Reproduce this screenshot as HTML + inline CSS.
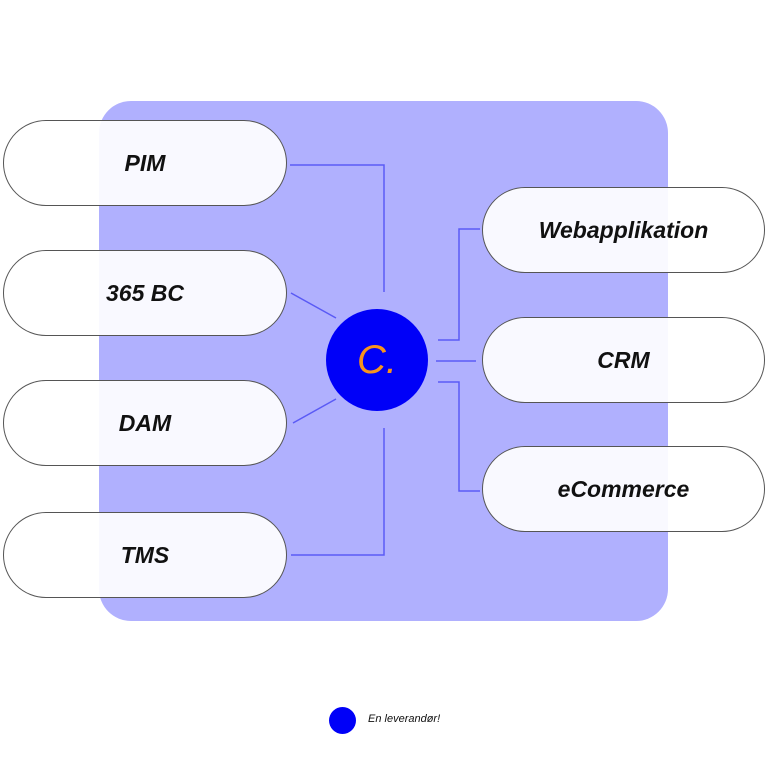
<!DOCTYPE html>
<html><head><style>
body{margin:0;width:768px;height:768px;background:#fff;position:relative;overflow:hidden;font-family:"Liberation Sans",sans-serif}
.bg{position:absolute;left:99px;top:101px;width:569px;height:520px;background:#b0b0fe;border-radius:32px}
.p{position:absolute;height:86px;border:1.3px solid #555;border-radius:44px;background:rgba(255,255,255,0.92);font-style:italic;font-weight:bold;font-size:23px;color:#111;display:flex;align-items:center;justify-content:center;box-sizing:border-box}
.l{left:3px;width:284px}
.r{left:482px;width:283px}
.c{position:absolute;left:326px;top:309px;width:102px;height:102px;border-radius:50%;background:#0000f8;color:#f7941d;font-size:40px;font-style:italic;display:flex;align-items:center;justify-content:center}
</style></head><body>
<div class="bg"></div>
<svg width="768" height="768" style="position:absolute;left:0;top:0" fill="none" stroke="#5a5af5" stroke-width="1.5">
<polyline points="290,165 384,165 384,292"/>
<line x1="291" y1="293" x2="336" y2="318"/>
<line x1="293" y1="423" x2="336" y2="399"/>
<polyline points="291,555 384,555 384,428"/>
<polyline points="438,340 459,340 459,229 480,229"/>
<line x1="436" y1="361" x2="476" y2="361"/>
<polyline points="438,382 459,382 459,491 480,491"/>
</svg>
<div class="p l" style="top:120px;padding-right:0">PIM</div>
<div class="p l" style="top:250px">365 BC</div>
<div class="p l" style="top:380px">DAM</div>
<div class="p l" style="top:512px">TMS</div>
<div class="p r" style="top:187px">Webapplikation</div>
<div class="p r" style="top:317px">CRM</div>
<div class="p r" style="top:446px">eCommerce</div>
<div class="c">C.</div>
<div style="position:absolute;left:329px;top:707px;width:27px;height:27px;border-radius:50%;background:#0000f8"></div>
<div style="position:absolute;left:368px;top:713px;font-size:11px;font-style:italic;color:#111">En leverandør!</div>
</body></html>
